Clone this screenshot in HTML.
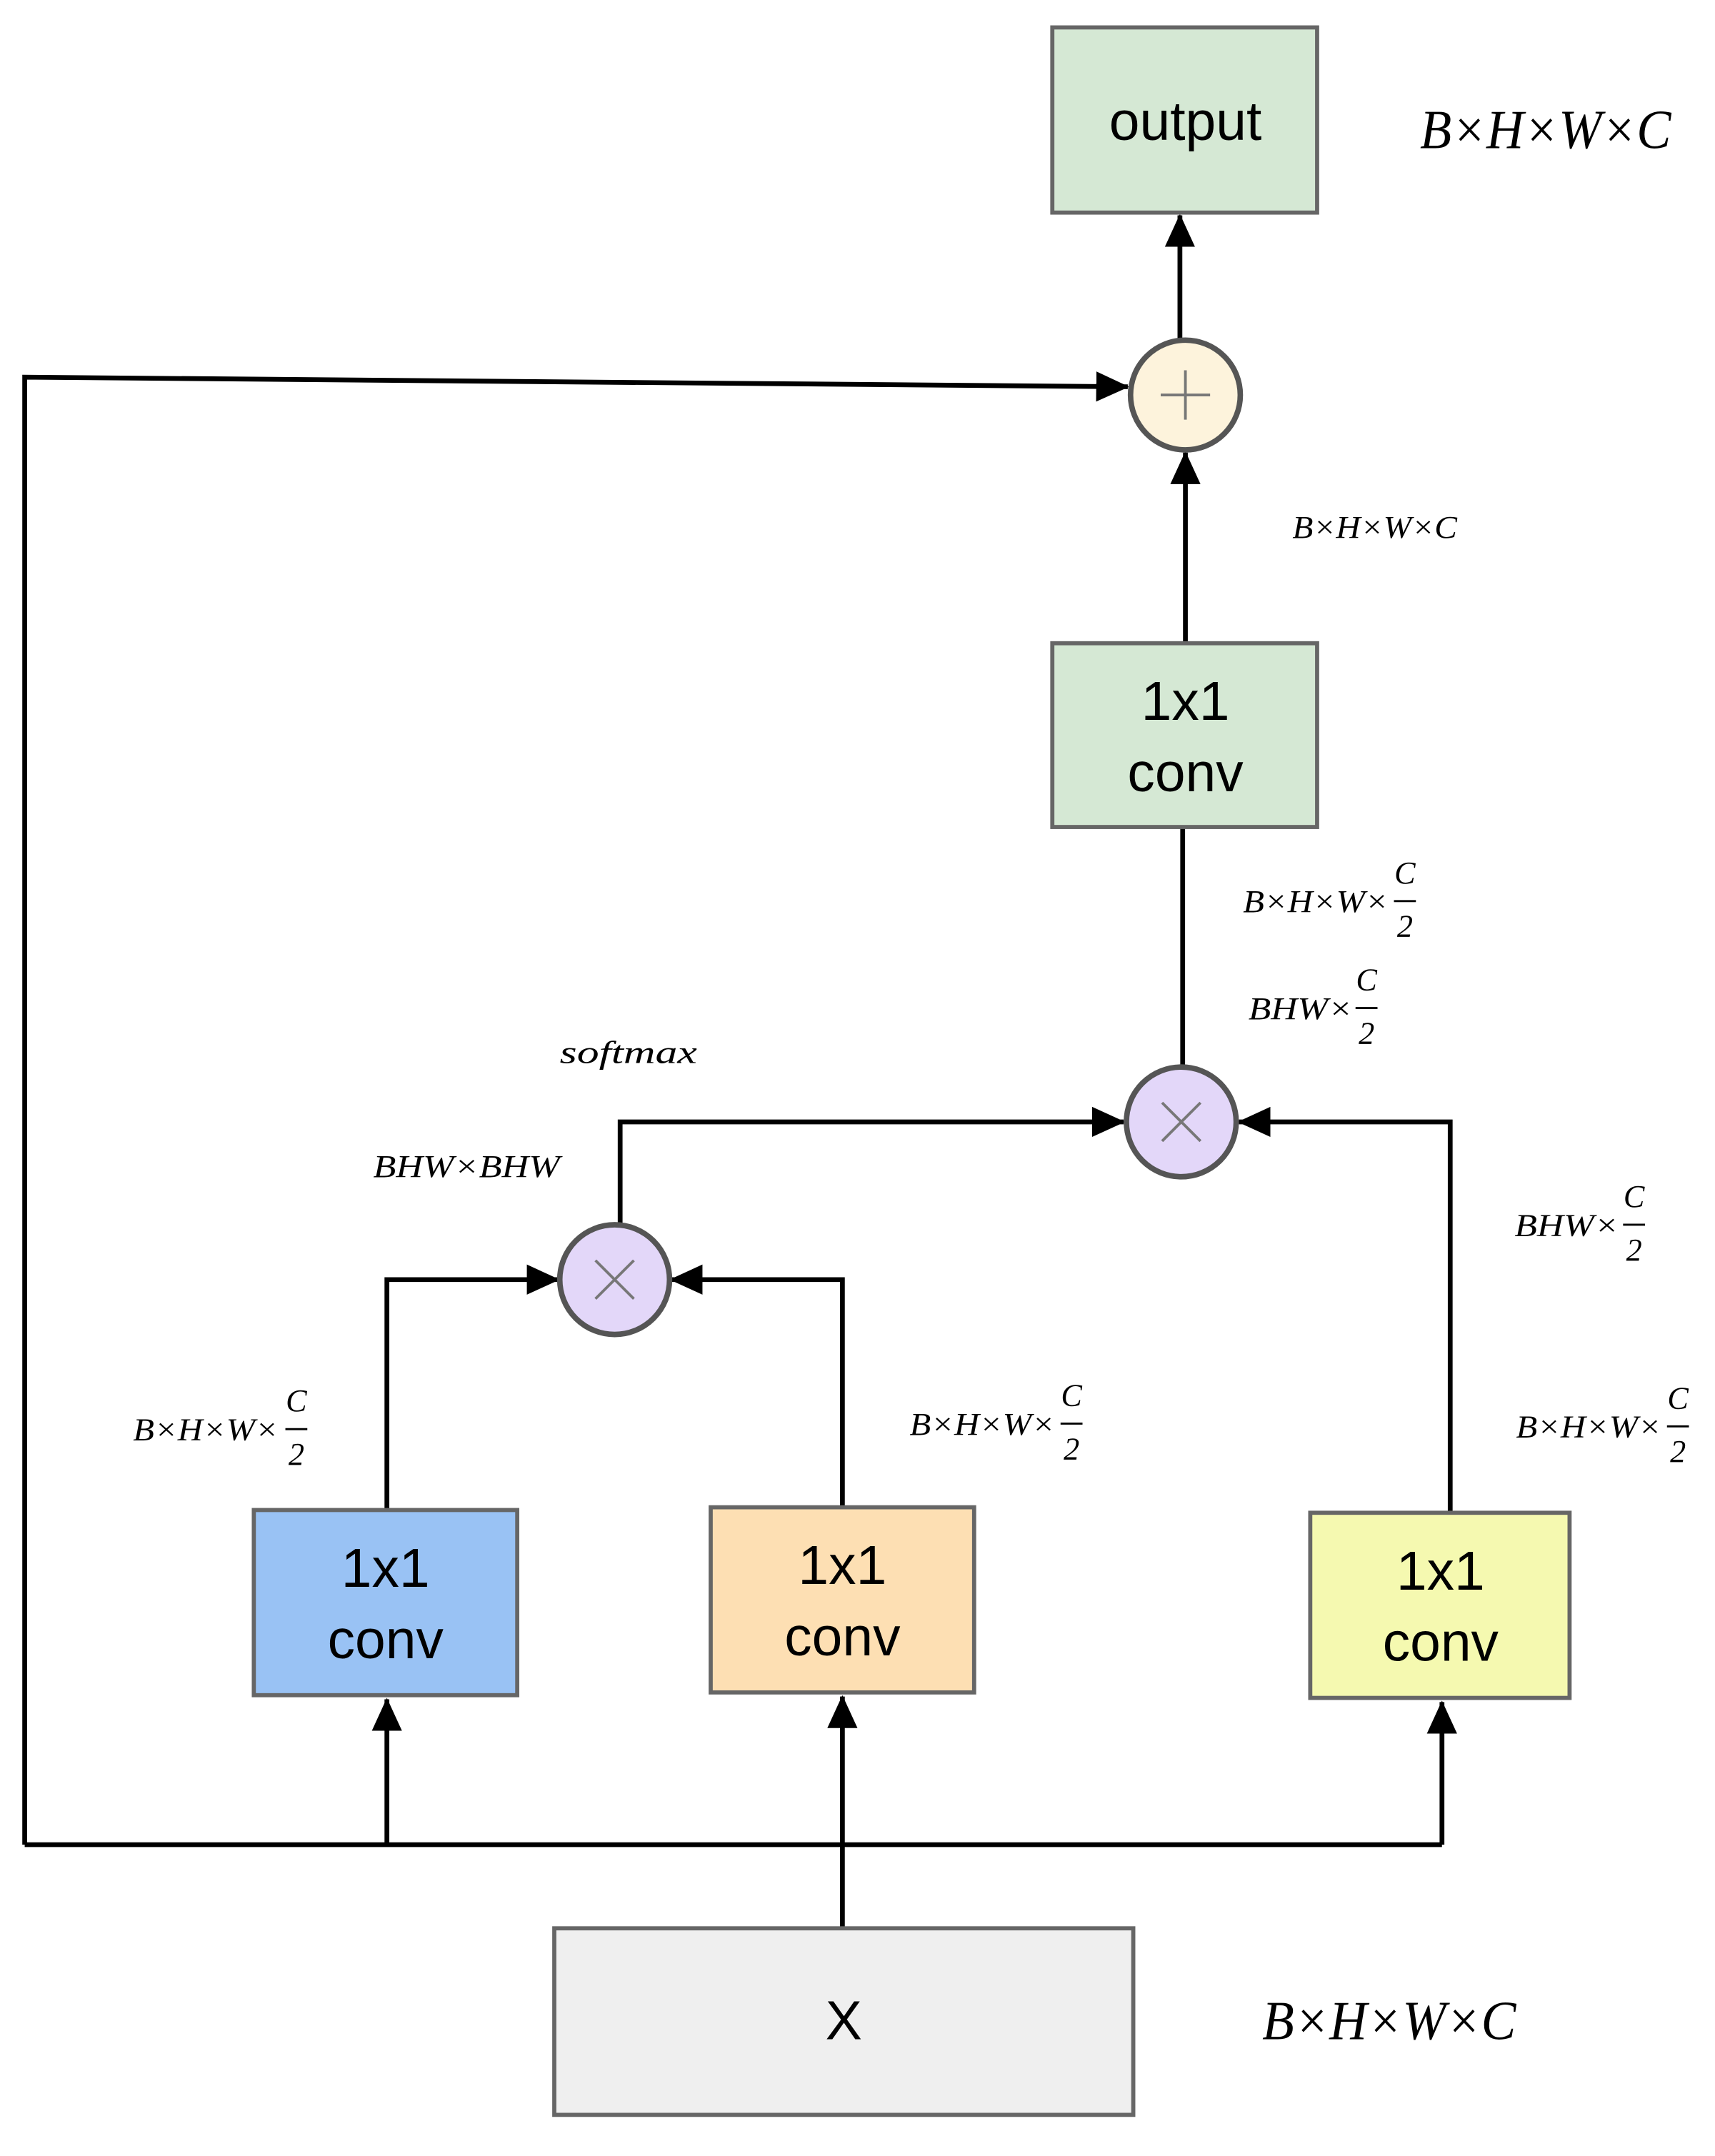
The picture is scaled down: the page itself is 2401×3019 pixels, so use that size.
<!DOCTYPE html>
<html><head><meta charset="utf-8"><style>html,body{margin:0;padding:0;background:#fff}svg{display:block}</style></head>
<body>
<svg width="2401" height="3019" viewBox="0 0 1250 1572" preserveAspectRatio="none" xmlns="http://www.w3.org/2000/svg">
<defs>
<marker id="b" markerWidth="24" markerHeight="24" refX="23" refY="12" orient="auto" markerUnits="userSpaceOnUse" viewBox="0 0 24 24"><path d="M0,1 L24,12 L0,23 z" fill="#000"/></marker>
</defs>
<g stroke="#000" stroke-width="3.5" fill="none">
<polyline points="18,1345 18,275 822,282" marker-end="url(#b)"/>
<line x1="860" y1="248" x2="860" y2="157" marker-end="url(#b)"/>
<line x1="864" y1="468" x2="864" y2="330" marker-end="url(#b)"/>
<line x1="862" y1="603" x2="862" y2="778"/>
<polyline points="452,893 452,818 819,818" marker-end="url(#b)"/>
<polyline points="1057,1102 1057,818 903,818" marker-end="url(#b)"/>
<polyline points="282,1100 282,933 407,933" marker-end="url(#b)"/>
<polyline points="614,1098 614,933 489,933" marker-end="url(#b)"/>
<polyline points="18,1345 1051,1345"/>
<line x1="282" y1="1345" x2="282" y2="1239" marker-end="url(#b)"/>
<line x1="1051" y1="1345" x2="1051" y2="1241" marker-end="url(#b)"/>
<line x1="614" y1="1406" x2="614" y2="1237" marker-end="url(#b)"/>
</g>
<g stroke="#666" stroke-width="3">
<rect x="767" y="20" width="193" height="135" fill="#d5e8d4"/>
<rect x="767" y="469" width="193" height="134" fill="#d5e8d4"/>
<rect x="185" y="1101" width="192" height="135" fill="#99c2f4"/>
<rect x="518" y="1099" width="192" height="135" fill="#fddfb3"/>
<rect x="955" y="1103" width="189" height="135" fill="#f5f9b0"/>
<rect x="404" y="1406" width="422" height="136" fill="#efefef"/>
</g>
<g stroke="#555" stroke-width="4">
<circle cx="864" cy="288" r="40" fill="#fdf3dc"/>
<circle cx="861" cy="818" r="40" fill="#e3d7f9"/>
<circle cx="448" cy="933" r="40" fill="#e3d7f9"/>
</g>
<g stroke="#777" stroke-width="2">
<line x1="846" y1="288" x2="882" y2="288"/><line x1="864" y1="270" x2="864" y2="306"/>
<line x1="847" y1="804" x2="875" y2="832"/><line x1="875" y1="804" x2="847" y2="832"/>
<line x1="434" y1="919" x2="462" y2="947"/><line x1="462" y1="919" x2="434" y2="947"/>
</g>
<g font-family="Liberation Sans, sans-serif" font-size="40" text-anchor="middle" fill="#000">
<text x="864" y="102">output</text>
<text x="864" y="525">1x1</text><text x="864" y="577">conv</text>
<text x="281" y="1157">1x1</text><text x="281" y="1209">conv</text>
<text x="614" y="1155">1x1</text><text x="614" y="1207">conv</text>
<text x="1050" y="1159">1x1</text><text x="1050" y="1211">conv</text>
<text x="615" y="1487">X</text>
</g>
<g font-family="Liberation Serif, serif" font-style="italic" fill="#000">
<text x="1035" y="108" font-size="40" textLength="183" lengthAdjust="spacingAndGlyphs">B×H×W×C</text>
<text x="920" y="1487" font-size="40" textLength="185" lengthAdjust="spacingAndGlyphs">B×H×W×C</text>
<text x="942" y="392" font-size="23" textLength="120" lengthAdjust="spacingAndGlyphs">B×H×W×C</text>
<text x="408" y="775" font-size="23" textLength="100" lengthAdjust="spacingAndGlyphs">softmax</text>
<text x="272" y="858" font-size="23" textLength="136" lengthAdjust="spacingAndGlyphs">BHW×BHW</text>
<g font-size="23">
<text x="906" y="665" textLength="106" lengthAdjust="spacingAndGlyphs">B×H×W×</text><text x="1024" y="644" text-anchor="middle">C</text><text x="1024" y="683" text-anchor="middle">2</text>
<text x="910" y="743" textLength="76" lengthAdjust="spacingAndGlyphs">BHW×</text><text x="996" y="722" text-anchor="middle">C</text><text x="996" y="761" text-anchor="middle">2</text>
<text x="1104" y="901" textLength="76" lengthAdjust="spacingAndGlyphs">BHW×</text><text x="1191" y="880" text-anchor="middle">C</text><text x="1191" y="919" text-anchor="middle">2</text>
<text x="97" y="1050" textLength="106" lengthAdjust="spacingAndGlyphs">B×H×W×</text><text x="216" y="1029" text-anchor="middle">C</text><text x="216" y="1068" text-anchor="middle">2</text>
<text x="663" y="1046" textLength="106" lengthAdjust="spacingAndGlyphs">B×H×W×</text><text x="781" y="1025" text-anchor="middle">C</text><text x="781" y="1064" text-anchor="middle">2</text>
<text x="1105" y="1048" textLength="106" lengthAdjust="spacingAndGlyphs">B×H×W×</text><text x="1223" y="1027" text-anchor="middle">C</text><text x="1223" y="1066" text-anchor="middle">2</text>
</g>
</g>
<g stroke="#000" stroke-width="1.5">
<line x1="1016" y1="657" x2="1032" y2="657"/><line x1="988" y1="735" x2="1004" y2="735"/>
<line x1="1183" y1="893" x2="1199" y2="893"/><line x1="208" y1="1042" x2="224" y2="1042"/>
<line x1="773" y1="1038" x2="789" y2="1038"/><line x1="1215" y1="1040" x2="1231" y2="1040"/>
</g>
</svg>
</body></html>
